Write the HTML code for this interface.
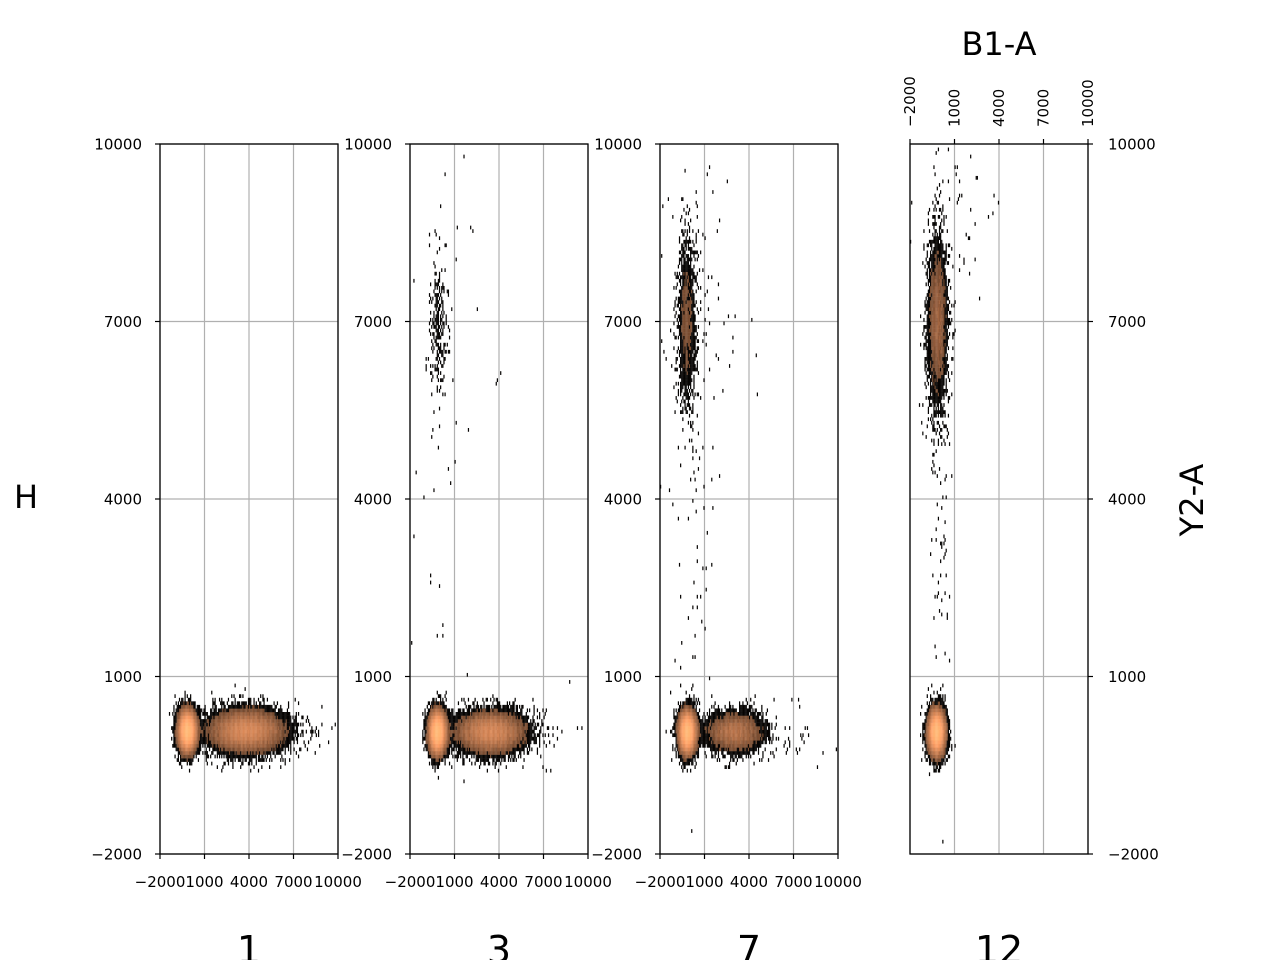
<!DOCTYPE html>
<html><head><meta charset="utf-8"><style>
body{margin:0;background:#fff}
svg{display:block;font-family:"DejaVu Sans","Liberation Sans",sans-serif}
</style></head><body>
<svg id="chart" width="1280" height="960" viewBox="0 0 1280 960">
<g id="panels"></g>
<text x="26" y="508" font-size="32" text-anchor="middle">H</text>
<text x="999" y="55" font-size="32" text-anchor="middle">B1-A</text>
<text transform="translate(1203,500) rotate(-90)" font-size="32" text-anchor="middle">Y2-A</text>
</svg>
<script>
const panelLabels = ["1","3","7","12"];
const tickValues = [-2000,1000,4000,7000,10000];
const tickLabels = ["\u22122000","1000","4000","7000","10000"];
// clusters per panel: [xCenter, yCenter, xSd, ySd, count]
const clusters1 = [[-150,80,330,190,3000],[3800,80,1400,200,4000],[6500,100,1500,260,60]];
const clusters3 = [[-150,60,320,200,2600],[3400,60,1300,200,3200],[6500,80,1500,260,50],[-100,6900,300,700,200],[500,6000,1500,2500,40]];
const clusters7 = [[-150,60,320,200,2600],[3000,60,1100,190,1600],[6500,80,1500,260,40],[-200,7000,340,800,800],[500,7200,1500,1700,100],[0,2500,700,1500,40]];
const clusters12 = [[-200,60,320,210,2600],[-150,7000,380,800,1500],[0,3500,350,1800,80],[1500,8800,1500,900,50]];
const allClusters = [clusters1,clusters3,clusters7,clusters12];
const X0 = [160,410,660,910], PW = 178, TOP = 144, BOT = 854;
const xs = (i,v)=>X0[i] + (v+2000)/12000*PW;
const ys = v=>BOT - (v+2000)/12000*(BOT-TOP);
const NS='http://www.w3.org/2000/svg';
function mk(tag,attrs,parent){const e=document.createElementNS(NS,tag);for(const k in attrs)e.setAttribute(k,attrs[k]);parent.appendChild(e);return e;}
function hash(a,b,c){let h=(a*374761393+b*668265263+c*2147483647)|0;h=(h^(h>>>13))*1274126177|0;h=h^(h>>>16);return ((h>>>0)%100000)/100000;}
function copper(t){const r=Math.min(1,1.25*t),g=0.7812*t,b=0.4975*t;return `rgb(${Math.round(r*255)},${Math.round(g*255)},${Math.round(b*255)})`;}
const root=document.getElementById('panels');
allClusters.forEach((cl,i)=>{
  const g=mk('g',{},root);
  
  
  tickValues.forEach(v=>{
    const gx=mk('line',{x1:xs(i,v),x2:xs(i,v),y1:TOP,y2:BOT,stroke:'#b0b0b0','stroke-width':1.2},g);
    
    
    const gy=mk('line',{x1:X0[i],x2:X0[i]+PW,y1:ys(v),y2:ys(v),stroke:'#b0b0b0','stroke-width':1.2},g);
    
    
  });
  const bx=75, by=60;
  const cells=[];let cmax=1;
  for(let x=-2000;x<10000;x+=bx){for(let y=-2000;y<10000;y+=by){
    let e=0;
    cl.forEach(c=>{const dx=(x+bx/2-c[0])/c[2],dy=(y+by/2-c[1])/c[3];e+=c[4]*bx*by/(2*Math.PI*c[2]*c[3])*Math.exp(-0.5*(dx*dx+dy*dy));});
    const n=Math.floor(e+hash(x+3000,y+3000,i+1)*(e>3?1.5:1));
    if(n>0){cells.push([x,y,n]);if(n>cmax)cmax=n;}
  }}
  const hg=mk('g',{},g);
  
  
  cells.forEach(c=>{
    const t=0.12+0.9*Math.log(1+c[2])/Math.log(1+cmax)*0.9;
    const r=mk('rect',{x:xs(i,c[0]),y:ys(c[1]+by),width:PW*bx/12000+0.1,height:(BOT-TOP)*by/12000+0.2,fill:copper(c[2]<=1?0.02:t)},hg);
    
    
  });
  const fr=mk('rect',{x:X0[i],y:TOP,width:PW,height:BOT-TOP,fill:'none',stroke:'#000','stroke-width':1.3},g);
  
  
  tickValues.forEach((v,k)=>{
    if(i<3){
      const tx=mk('line',{x1:xs(i,v),x2:xs(i,v),y1:BOT,y2:BOT+5,stroke:'#000','stroke-width':1.2},g);
      
      
      const lx=mk('text',{x:xs(i,v),y:887,'font-size':15,'text-anchor':'middle'},g);
      
      
      lx.textContent=tickLabels[k];
      const ty=mk('line',{x1:X0[i]-5,x2:X0[i],y1:ys(v),y2:ys(v),stroke:'#000','stroke-width':1.2},g);
      
      
      const ly=mk('text',{x:X0[i]-18,y:ys(v)+5.5,'font-size':15,'text-anchor':'end'},g);
      
      
      ly.textContent=tickLabels[k];
    } else {
      const tx=mk('line',{x1:xs(i,v),x2:xs(i,v),y1:TOP-5,y2:TOP,stroke:'#000','stroke-width':1.2},g);
      
      
      const lx=mk('text',{transform:`translate(${xs(i,v)+5},${TOP-17}) rotate(-90)`,'font-size':15},g);
      
      
      lx.textContent=tickLabels[k];
      const ty=mk('line',{x1:X0[i]+PW,x2:X0[i]+PW+5,y1:ys(v),y2:ys(v),stroke:'#000','stroke-width':1.2},g);
      
      
      const ly=mk('text',{x:X0[i]+PW+20,y:ys(v)+5.5,'font-size':15},g);
      
      
      ly.textContent=tickLabels[k];
    }
  });
  const pl=mk('text',{x:X0[i]+PW/2,y:963,'font-size':38,'text-anchor':'middle'},g);
  
  
  pl.textContent=panelLabels[i];
});
</script>
</body></html>
